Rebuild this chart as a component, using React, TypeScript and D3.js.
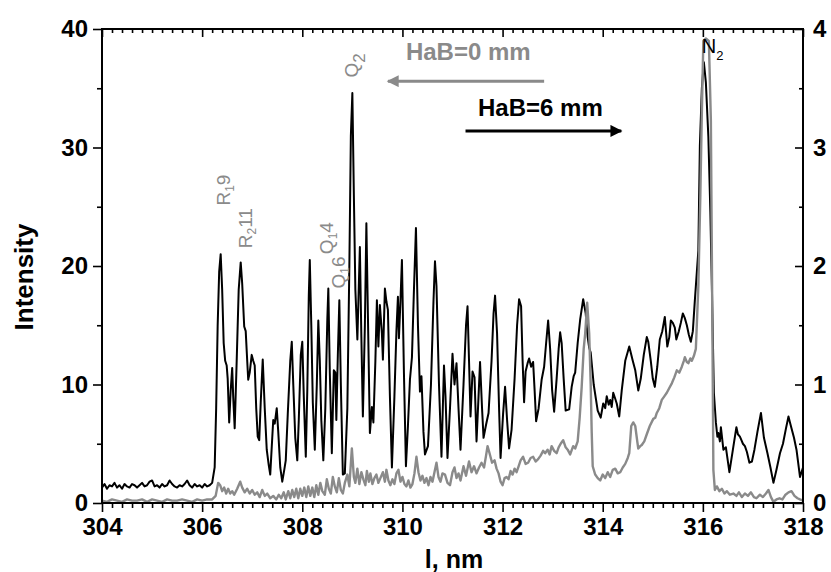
import { useLayoutEffect, useRef } from 'react'
import * as d3 from 'd3'

const FONT = "'Liberation Sans', Arial, sans-serif"
const GRAY = '#8a8a8a'

const nmTicks = [304, 306, 308, 310, 312, 314, 316, 318]
const intensityTicks = [0, 10, 20, 30, 40]
const intensityMinor = [5, 15, 25, 35]
const rightTicks = [0, 1, 2, 3, 4]
const rightMinor = [0.5, 1.5, 2.5, 3.5]

// HaB = 6 mm, left axis
const hab6: [number, number][] = [
  [304.0, 1.3], [304.05, 1.6], [304.1, 1.2], [304.15, 1.5], [304.2, 1.4], [304.25, 1.7], [304.3, 1.3],
  [304.35, 1.5], [304.4, 1.2], [304.45, 1.6], [304.5, 1.4], [304.55, 1.3], [304.6, 1.6], [304.65, 1.5],
  [304.7, 1.3], [304.75, 1.5], [304.8, 1.7], [304.85, 1.4], [304.9, 1.5], [304.95, 1.8], [305.0, 1.9],
  [305.05, 1.4], [305.1, 1.5], [305.15, 1.3], [305.2, 1.6], [305.25, 1.4], [305.3, 1.5], [305.35, 1.9],
  [305.4, 1.6], [305.45, 1.4], [305.5, 1.3], [305.55, 1.5], [305.6, 1.4], [305.65, 1.6], [305.7, 1.9],
  [305.75, 1.5], [305.8, 1.3], [305.85, 1.6], [305.9, 1.4], [305.95, 1.5], [306.0, 1.3], [306.05, 1.6],
  [306.1, 1.4], [306.15, 1.5], [306.2, 1.7],
  [306.25, 3.0], [306.28, 8.0], [306.31, 15.0], [306.34, 19.5], [306.37, 21.0], [306.4, 18.0],
  [306.43, 13.5], [306.46, 12.0], [306.49, 11.6], [306.51, 10.5], [306.54, 6.8], [306.57, 9.5],
  [306.6, 11.4], [306.62, 9.0], [306.65, 6.3], [306.69, 12.0], [306.73, 18.0], [306.77, 20.3],
  [306.8, 18.5], [306.84, 14.9], [306.87, 14.5], [306.9, 12.0], [306.92, 10.4], [306.95, 11.0],
  [306.99, 12.5], [307.02, 12.0], [307.05, 11.6], [307.08, 8.0], [307.11, 5.6], [307.14, 5.3],
  [307.17, 8.5], [307.21, 12.1], [307.25, 8.0], [307.29, 4.5], [307.33, 3.2], [307.36, 2.4],
  [307.4, 5.5], [307.42, 7.0], [307.45, 6.7], [307.49, 8.0], [307.52, 6.0], [307.56, 3.0],
  [307.6, 1.8], [307.64, 2.8], [307.67, 3.6], [307.71, 7.5], [307.76, 12.0], [307.79, 13.6],
  [307.82, 10.0], [307.86, 5.5], [307.9, 3.6], [307.93, 7.0], [307.97, 12.5], [308.0, 13.6],
  [308.03, 9.0], [308.07, 3.9], [308.1, 9.5], [308.13, 17.5], [308.15, 20.5], [308.18, 15.0],
  [308.21, 8.5], [308.25, 4.5], [308.29, 10.0], [308.32, 15.4], [308.35, 12.0], [308.38, 7.0],
  [308.42, 3.6], [308.46, 8.0], [308.5, 15.5], [308.52, 18.1], [308.55, 11.0], [308.59, 4.2],
  [308.63, 11.2], [308.66, 11.0], [308.68, 7.0], [308.71, 12.5], [308.74, 17.1], [308.77, 10.0],
  [308.81, 2.4], [308.85, 2.5], [308.9, 8.0], [308.94, 20.0], [308.97, 31.0], [309.0, 34.6],
  [309.03, 26.0], [309.06, 18.0], [309.1, 13.8], [309.13, 18.5], [309.15, 21.6], [309.18, 14.0],
  [309.21, 7.3], [309.25, 15.0], [309.28, 23.6], [309.31, 16.0], [309.35, 5.9], [309.39, 8.1],
  [309.42, 6.8], [309.46, 12.0], [309.49, 17.1], [309.52, 13.2], [309.55, 16.7], [309.59, 14.3],
  [309.61, 12.1], [309.65, 18.1], [309.68, 17.0], [309.71, 16.3], [309.75, 9.0], [309.79, 3.0],
  [309.84, 9.0], [309.88, 14.5], [309.91, 17.4], [309.93, 13.9], [309.96, 17.0], [309.99, 20.5],
  [310.03, 11.0], [310.07, 3.1], [310.11, 6.5], [310.15, 10.4], [310.19, 12.3], [310.23, 18.0],
  [310.27, 23.2], [310.31, 15.0], [310.35, 9.4], [310.38, 10.7], [310.42, 6.0], [310.45, 4.1],
  [310.51, 4.8], [310.57, 10.0], [310.62, 17.0], [310.65, 20.4], [310.68, 18.3], [310.73, 10.0],
  [310.78, 3.9], [310.83, 11.6], [310.86, 9.0], [310.9, 3.8], [310.95, 8.0], [311.0, 12.6],
  [311.04, 10.0], [311.08, 11.8], [311.12, 8.0], [311.16, 4.5], [311.22, 10.0], [311.27, 15.0],
  [311.3, 16.6], [311.33, 12.0], [311.36, 7.3], [311.4, 11.1], [311.44, 10.6], [311.48, 5.2],
  [311.52, 9.0], [311.55, 11.9], [311.59, 8.0], [311.62, 5.5], [311.67, 6.6], [311.72, 7.6],
  [311.78, 12.0], [311.82, 16.0], [311.85, 17.5], [311.89, 14.3], [311.93, 8.0], [311.96, 3.8],
  [312.01, 7.5], [312.05, 9.8], [312.09, 7.0], [312.13, 4.6], [312.18, 6.2], [312.24, 10.5],
  [312.29, 15.0], [312.33, 17.2], [312.37, 16.6], [312.4, 12.0], [312.43, 8.5], [312.46, 11.1],
  [312.5, 11.8], [312.53, 12.2], [312.57, 11.5], [312.61, 11.9], [312.64, 9.5], [312.67, 6.9],
  [312.72, 8.0], [312.78, 10.4], [312.83, 11.5], [312.87, 13.5], [312.91, 15.4], [312.95, 13.0],
  [312.99, 9.5], [313.03, 7.7], [313.08, 10.5], [313.12, 13.0], [313.15, 14.4], [313.18, 13.5],
  [313.22, 10.5], [313.26, 7.8], [313.33, 7.9], [313.38, 9.8], [313.42, 10.7], [313.45, 11.0],
  [313.5, 13.5], [313.55, 15.5], [313.61, 17.2], [313.66, 16.0], [313.7, 14.0], [313.73, 13.1],
  [313.76, 12.7], [313.82, 10.0], [313.9, 7.8], [313.96, 7.2], [314.01, 8.4], [314.05, 8.0],
  [314.08, 9.0], [314.12, 8.3], [314.15, 8.7], [314.18, 8.1], [314.21, 9.3], [314.25, 8.8],
  [314.28, 8.4], [314.33, 7.3], [314.38, 9.5], [314.45, 12.0], [314.53, 13.2], [314.6, 12.0],
  [314.65, 11.2], [314.71, 9.5], [314.76, 10.5], [314.82, 12.5], [314.88, 14.0], [314.91, 13.6],
  [314.96, 12.0], [315.0, 10.5], [315.04, 9.8], [315.09, 11.5], [315.14, 13.8], [315.19, 14.5],
  [315.24, 15.7], [315.29, 13.2], [315.33, 14.0], [315.36, 15.4], [315.4, 15.2], [315.44, 14.8],
  [315.47, 13.8], [315.52, 14.5], [315.56, 15.2], [315.6, 16.0], [315.64, 15.6], [315.68, 15.0],
  [315.72, 14.2], [315.76, 13.6], [315.8, 14.5], [315.84, 17.1], [315.88, 19.5], [315.91, 21.3],
  [315.94, 30.1], [315.98, 35.0], [316.02, 37.2], [316.06, 35.5], [316.11, 30.9], [316.15, 24.5],
  [316.18, 18.3], [316.22, 9.3], [316.26, 6.8], [316.29, 5.6], [316.31, 5.9], [316.34, 5.2],
  [316.36, 6.4], [316.41, 4.5], [316.46, 4.7], [316.53, 2.6], [316.6, 4.5], [316.67, 6.4],
  [316.7, 5.8], [316.74, 5.6], [316.77, 5.3], [316.8, 5.0], [316.84, 4.8], [316.88, 4.3],
  [316.93, 3.4], [316.98, 3.5], [317.03, 4.5], [317.09, 6.0], [317.16, 7.6], [317.22, 5.5],
  [317.29, 4.2], [317.35, 3.0], [317.41, 1.7], [317.47, 2.8], [317.54, 4.2], [317.6, 5.0],
  [317.66, 6.3], [317.71, 7.3], [317.74, 6.8], [317.77, 6.3], [317.82, 5.5], [317.87, 4.5],
  [317.94, 2.2], [318.0, 3.0],
]

// HaB = 0 mm, right axis
const hab0: [number, number][] = [
  [304.0, 0.02], [304.1, 0.01], [304.2, 0.03], [304.3, 0.02], [304.4, 0.01], [304.5, 0.03],
  [304.6, 0.02], [304.7, 0.02], [304.8, 0.03], [304.9, 0.01], [305.0, 0.03], [305.1, 0.02],
  [305.2, 0.01], [305.3, 0.03], [305.4, 0.02], [305.5, 0.02], [305.6, 0.03], [305.7, 0.02],
  [305.8, 0.01], [305.9, 0.03], [306.0, 0.02], [306.1, 0.03], [306.2, 0.03],
  [306.27, 0.06], [306.32, 0.17], [306.36, 0.15], [306.4, 0.1], [306.44, 0.13], [306.48, 0.08],
  [306.52, 0.12], [306.56, 0.08], [306.6, 0.1], [306.64, 0.07], [306.7, 0.12], [306.76, 0.18],
  [306.8, 0.13], [306.85, 0.09], [306.9, 0.12], [306.95, 0.08], [307.0, 0.11], [307.05, 0.07],
  [307.1, 0.09], [307.15, 0.05], [307.2, 0.11], [307.25, 0.06], [307.3, 0.08], [307.36, 0.04],
  [307.42, 0.06], [307.48, 0.03], [307.53, 0.07], [307.58, 0.04], [307.63, 0.09], [307.67, 0.03],
  [307.72, 0.1], [307.76, 0.04], [307.8, 0.11], [307.84, 0.05], [307.88, 0.12], [307.92, 0.04],
  [307.96, 0.12], [308.0, 0.06], [308.04, 0.13], [308.08, 0.05], [308.12, 0.14], [308.16, 0.06],
  [308.2, 0.13], [308.24, 0.05], [308.28, 0.15], [308.32, 0.07], [308.36, 0.17], [308.4, 0.1],
  [308.45, 0.07], [308.49, 0.2], [308.53, 0.12], [308.57, 0.08], [308.61, 0.22], [308.65, 0.14],
  [308.69, 0.09], [308.73, 0.21], [308.77, 0.11], [308.81, 0.08], [308.85, 0.17], [308.9, 0.24],
  [308.94, 0.14], [308.99, 0.46], [309.03, 0.22], [309.06, 0.17], [309.1, 0.29], [309.14, 0.16],
  [309.18, 0.26], [309.22, 0.2], [309.26, 0.15], [309.29, 0.27], [309.33, 0.18], [309.36, 0.25],
  [309.4, 0.16], [309.44, 0.21], [309.48, 0.24], [309.52, 0.17], [309.56, 0.21], [309.61, 0.26],
  [309.65, 0.18], [309.68, 0.28], [309.72, 0.19], [309.76, 0.15], [309.8, 0.2], [309.84, 0.16],
  [309.88, 0.25], [309.92, 0.28], [309.96, 0.18], [310.0, 0.22], [310.04, 0.16], [310.08, 0.14],
  [310.12, 0.19], [310.16, 0.13], [310.2, 0.16], [310.24, 0.25], [310.28, 0.39], [310.32, 0.26],
  [310.36, 0.19], [310.4, 0.23], [310.44, 0.17], [310.48, 0.21], [310.52, 0.15], [310.56, 0.22],
  [310.6, 0.18], [310.64, 0.26], [310.68, 0.34], [310.72, 0.22], [310.76, 0.18], [310.8, 0.25],
  [310.85, 0.24], [310.9, 0.17], [310.95, 0.15], [311.0, 0.26], [311.04, 0.3], [311.08, 0.21],
  [311.12, 0.25], [311.16, 0.19], [311.22, 0.31], [311.27, 0.23], [311.33, 0.35], [311.38, 0.26],
  [311.43, 0.31], [311.48, 0.25], [311.53, 0.3], [311.58, 0.34], [311.63, 0.3], [311.67, 0.4],
  [311.7, 0.48], [311.74, 0.42], [311.79, 0.34], [311.84, 0.36], [311.88, 0.29], [311.92, 0.25],
  [311.96, 0.18], [312.0, 0.15], [312.04, 0.21], [312.08, 0.22], [312.12, 0.2], [312.16, 0.27],
  [312.2, 0.24], [312.24, 0.29], [312.28, 0.26], [312.32, 0.31], [312.36, 0.36], [312.41, 0.39],
  [312.46, 0.33], [312.51, 0.34], [312.56, 0.38], [312.61, 0.39], [312.66, 0.35], [312.71, 0.37],
  [312.76, 0.4], [312.81, 0.44], [312.85, 0.42], [312.9, 0.45], [312.94, 0.41], [312.98, 0.48],
  [313.03, 0.44], [313.08, 0.42], [313.12, 0.47], [313.16, 0.5], [313.21, 0.53], [313.26, 0.47],
  [313.3, 0.45], [313.35, 0.41], [313.41, 0.48], [313.45, 0.46], [313.5, 0.52], [313.54, 0.72],
  [313.58, 0.98], [313.62, 1.3], [313.65, 1.43], [313.69, 1.69], [313.73, 1.43], [313.76, 1.0],
  [313.78, 0.6], [313.8, 0.31], [313.85, 0.24], [313.9, 0.21], [313.95, 0.19], [314.0, 0.24],
  [314.05, 0.21], [314.1, 0.26], [314.15, 0.22], [314.2, 0.28], [314.25, 0.29], [314.3, 0.25],
  [314.35, 0.26], [314.4, 0.3], [314.45, 0.33], [314.5, 0.38], [314.53, 0.42], [314.57, 0.65],
  [314.61, 0.68], [314.65, 0.65], [314.69, 0.52], [314.71, 0.46], [314.75, 0.48], [314.78, 0.49],
  [314.83, 0.52], [314.88, 0.58], [314.94, 0.65], [315.01, 0.71], [315.05, 0.72], [315.08, 0.76],
  [315.13, 0.8], [315.18, 0.87], [315.23, 0.9], [315.28, 0.93], [315.33, 0.97], [315.38, 1.01],
  [315.43, 1.06], [315.48, 1.12], [315.53, 1.1], [315.58, 1.15], [315.62, 1.2], [315.64, 1.23],
  [315.68, 1.19], [315.71, 1.18], [315.75, 1.22], [315.78, 1.2], [315.82, 1.24], [315.86, 1.3],
  [315.91, 1.83], [315.95, 2.6], [315.98, 3.3], [316.01, 3.9], [316.06, 3.92], [316.12, 3.9],
  [316.16, 3.23], [316.19, 1.5], [316.21, 0.28], [316.24, 0.11], [316.28, 0.14], [316.33, 0.1],
  [316.38, 0.12], [316.43, 0.08], [316.48, 0.1], [316.54, 0.07], [316.61, 0.08], [316.67, 0.06],
  [316.72, 0.09], [316.78, 0.05], [316.84, 0.08], [316.9, 0.06], [316.96, 0.09], [317.02, 0.05],
  [317.07, 0.04], [317.14, 0.07], [317.2, 0.05], [317.26, 0.08], [317.31, 0.11], [317.36, 0.05],
  [317.41, 0.01], [317.47, 0.03], [317.53, 0.04], [317.59, 0.03], [317.65, 0.07], [317.71, 0.09],
  [317.77, 0.1], [317.83, 0.06], [317.89, 0.04], [317.94, 0.03], [318.0, 0.02],
]

// rotated line labels: [wavelength, intensity at text start, main, subscript, tail]
const lineLabels: [number, number, string, string, string][] = [
  [306.56, 25.1, 'R', '1', '9'],
  [307.0, 21.5, 'R', '2', '11'],
  [308.61, 21.0, 'Q', '1', '4'],
  [308.85, 18.1, 'Q', '1', '6'],
]

function Spectrum() {
  const ref = useRef<SVGSVGElement>(null)

  useLayoutEffect(() => {
    if (!ref.current) return
    const svg = d3.select(ref.current)
    svg.selectAll('*').remove()

    const left = 102
    const right = 803
    const top = 29
    const bottom = 503

    const x = d3.scaleLinear().domain([304, 318]).range([left, right])
    const y = d3.scaleLinear().domain([0, 40]).range([bottom, top])
    const y2 = d3.scaleLinear().domain([0, 4]).range([bottom, top])

    const nmMinor = d3.range(304, 318.001, 0.2).filter((v) => Math.abs(v / 2 - Math.round(v / 2)) > 0.01)

    const styleAxis = (sel: any, labels: boolean) => {
      sel.select('.domain').remove()
      sel.selectAll('.tick line').attr('stroke', '#000').attr('stroke-width', 1.6)
      if (labels) {
        sel
          .selectAll('text')
          .attr('fill', '#000')
          .attr('font-family', FONT)
          .attr('font-weight', 700)
          .attr('font-size', 24)
      } else {
        sel.selectAll('text').remove()
      }
    }

    // bottom
    svg.append('g').attr('transform', `translate(0,${bottom})`)
      .call(d3.axisBottom(x).tickValues(nmMinor).tickSize(5).tickSizeOuter(0))
      .call((s) => styleAxis(s, false))
    svg.append('g').attr('transform', `translate(0,${bottom})`)
      .call(d3.axisBottom(x).tickValues(nmTicks).tickSize(9).tickPadding(6).tickSizeOuter(0).tickFormat(d3.format('d')))
      .call((s) => styleAxis(s, true))
    // top (inward)
    svg.append('g').attr('transform', `translate(0,${top})`)
      .call(d3.axisTop(x).tickValues(nmMinor).tickSize(-4).tickSizeOuter(0))
      .call((s) => styleAxis(s, false))
    svg.append('g').attr('transform', `translate(0,${top})`)
      .call(d3.axisTop(x).tickValues(nmTicks).tickSize(-8).tickSizeOuter(0))
      .call((s) => styleAxis(s, false))
    // left
    svg.append('g').attr('transform', `translate(${left},0)`)
      .call(d3.axisLeft(y).tickValues(intensityMinor).tickSize(5).tickSizeOuter(0))
      .call((s) => styleAxis(s, false))
    svg.append('g').attr('transform', `translate(${left},0)`)
      .call(d3.axisLeft(y).tickValues(intensityTicks).tickSize(9).tickPadding(5).tickSizeOuter(0).tickFormat(d3.format('d')))
      .call((s) => styleAxis(s, true))
    // right (ticks inward)
    svg.append('g').attr('transform', `translate(${right},0)`)
      .call(d3.axisRight(y2).tickValues(rightMinor).tickSize(-4).tickSizeOuter(0))
      .call((s) => styleAxis(s, false))
    const ra = svg.append('g').attr('transform', `translate(${right},0)`)
      .call(d3.axisRight(y2).tickValues(rightTicks).tickSize(-8).tickSizeOuter(0).tickFormat(d3.format('d')))
      .call((s) => styleAxis(s, true))
    ra.selectAll('text').attr('x', 10)

    const line6 = d3.line<[number, number]>().x((d) => x(d[0])).y((d) => y(d[1]))
    const line0 = d3.line<[number, number]>().x((d) => x(d[0])).y((d) => y2(d[1]))

    svg.append('path')
      .attr('d', line6(hab6))
      .attr('fill', 'none')
      .attr('stroke', '#000')
      .attr('stroke-width', 2)
      .attr('stroke-linejoin', 'round')

    svg.append('path')
      .attr('d', line0(hab0))
      .attr('fill', 'none')
      .attr('stroke', GRAY)
      .attr('stroke-width', 2.4)
      .attr('stroke-linejoin', 'round')

    // frame
    svg.append('rect')
      .attr('x', left)
      .attr('y', top)
      .attr('width', right - left)
      .attr('height', bottom - top)
      .attr('fill', 'none')
      .attr('stroke', '#000')
      .attr('stroke-width', 2)

    // axis titles
    svg.append('text')
      .attr('transform', `translate(33,${(top + bottom) / 2 + 11}) rotate(-90)`)
      .attr('text-anchor', 'middle')
      .attr('font-family', FONT)
      .attr('font-weight', 700)
      .attr('font-size', 26)
      .text('Intensity')

    svg.append('text')
      .attr('x', 454)
      .attr('y', 568)
      .attr('text-anchor', 'middle')
      .attr('font-family', FONT)
      .attr('font-weight', 700)
      .attr('font-size', 25)
      .text('l, nm')

    // legend arrows
    const defs = svg.append('defs')
    const marker = (id: string, color: string) =>
      defs.append('marker')
        .attr('id', id)
        .attr('viewBox', '0 0 10 10')
        .attr('refX', 9)
        .attr('refY', 5)
        .attr('markerWidth', 5)
        .attr('markerHeight', 4)
        .attr('markerUnits', 'strokeWidth')
        .attr('orient', 'auto')
        .append('path')
        .attr('d', 'M0,0 L10,5 L0,10 Z')
        .attr('fill', color)
    marker('arrGray', GRAY)
    marker('arrBlack', '#000')

    svg.append('line')
      .attr('x1', x(312.83)).attr('x2', x(309.71))
      .attr('y1', y(35.6)).attr('y2', y(35.6))
      .attr('stroke', GRAY).attr('stroke-width', 3)
      .attr('marker-end', 'url(#arrGray)')
    svg.append('text')
      .attr('x', x(310.07)).attr('y', y(37.4))
      .attr('fill', GRAY)
      .attr('font-family', FONT).attr('font-weight', 700).attr('font-size', 24)
      .text('HaB=0 mm')

    svg.append('line')
      .attr('x1', x(311.26)).attr('x2', x(314.37))
      .attr('y1', y(31.4)).attr('y2', y(31.4))
      .attr('stroke', '#000').attr('stroke-width', 3)
      .attr('marker-end', 'url(#arrBlack)')
    svg.append('text')
      .attr('x', x(311.51)).attr('y', y(32.7))
      .attr('fill', '#000')
      .attr('font-family', FONT).attr('font-weight', 700).attr('font-size', 24)
      .text('HaB=6 mm')

    // rotated line labels
    lineLabels.forEach(([nm, v, main, sub, tail]) => {
      const t = svg.append('text')
        .attr('transform', `translate(${x(nm)},${y(v)}) rotate(-90)`)
        .attr('fill', GRAY)
        .attr('font-family', FONT)
        .attr('font-size', 19)
      t.append('tspan').text(main)
      t.append('tspan').attr('font-size', 12).attr('dy', 4).text(sub)
      t.append('tspan').attr('dy', -4).text(tail)
    })

    const q2 = svg.append('text')
      .attr('transform', `translate(${x(309.11)},${y(35.9)}) rotate(-90)`)
      .attr('fill', GRAY)
      .attr('font-family', FONT)
      .attr('font-size', 19)
    q2.append('tspan').text('Q')
    q2.append('tspan').attr('font-size', 17).attr('dy', 7).text('2')

    const n2 = svg.append('text')
      .attr('x', x(315.98))
      .attr('y', y(38.0))
      .attr('fill', '#000')
      .attr('font-family', FONT)
      .attr('font-size', 20)
    n2.append('tspan').text('N')
    n2.append('tspan').attr('font-size', 13).attr('dy', 7).text('2')
  }, [])

  return (
    <svg
      ref={ref}
      width={831}
      height={572}
      style={{ position: 'absolute', left: 0, top: 0, background: '#fff' }}
    />
  )
}

export default function App() {
  return <Spectrum />
}
